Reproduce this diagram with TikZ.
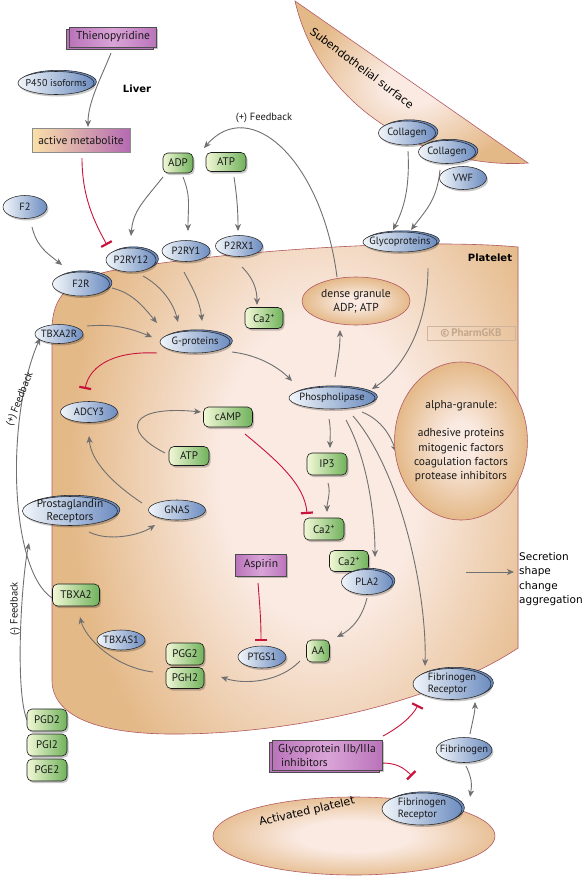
\documentclass[tikz,border=0pt]{standalone}
\usepackage{fontspec}
\setmainfont{PT Sans}
\newfontfamily\comicf{DejaVu Sans}
\usetikzlibrary{shapes.geometric,arrows.meta,shadows}
\definecolor{blL}{RGB}{242,246,250}
\definecolor{blR}{RGB}{108,140,192}
\definecolor{grL}{RGB}{242,248,214}
\definecolor{grR}{RGB}{112,178,92}
\definecolor{puM}{RGB}{218,164,216}
\definecolor{puE}{RGB}{186,116,186}
\definecolor{amL}{RGB}{250,224,168}
\definecolor{amR}{RGB}{180,106,178}
\definecolor{pin}{RGB}{250,234,226}
\definecolor{pout}{RGB}{228,185,136}
\definecolor{rim}{RGB}{180,90,100}
\definecolor{inhc}{RGB}{200,20,60}
\definecolor{arc}{RGB}{112,112,112}
\definecolor{wm}{RGB}{196,168,140}
\pgfdeclareradialshading{gran}{\pgfpoint{0bp}{0bp}}{color(0bp)=(pin); color(6bp)=(pin); color(25bp)=(pout); color(50bp)=(pout)}
\pgfdeclareradialshading{gran2}{\pgfpoint{0bp}{0bp}}{color(0bp)=(pin); color(10bp)=(pin); color(28bp)=(pout); color(50bp)=(pout)}
\pgfdeclareradialshading{plt}{\pgfpoint{0bp}{0bp}}{color(0bp)=(pin); color(100bp)=(pin); color(250bp)=(pout); color(255bp)=(pout)}
\pgfdeclarelayer{back}
\pgfdeclarelayer{edges}
\pgfsetlayers{back,edges,main}
\newcommand{\ca}{Ca2\textsuperscript{+}}
\tikzset{
  sz/.style 2 args={minimum width=#1pt, minimum height=#2pt},
  shd/.style={drop shadow={shadow xshift=1.5pt, shadow yshift=-2pt, opacity=0.22, fill=black}},
  bl/.style={ellipse, draw=black!85, line width=0.55pt, left color=blL, right color=blR,
    inner xsep=-10pt, inner ysep=-3pt, text=black!90, align=center,
    font=\fontsize{10.5}{12}\selectfont, shd},
  bld/.style={bl, copy shadow={shadow xshift=2.4pt, shadow yshift=1.2pt, fill=blR, draw=black!85, line width=0.55pt}},
  gr/.style={rectangle, rounded corners=5pt, draw=black!90, line width=0.6pt, left color=grL, right color=grR,
    inner sep=0pt, text=black!90, font=\fontsize{11}{12}\selectfont, shd},
  pu/.style={rectangle, draw=black!70, line width=0.6pt, left color=puE, right color=puE, middle color=puM,
    inner sep=0pt, text=black!90, font=\fontsize{11.5}{14}\selectfont, shd},
  pud/.style={pu, copy shadow={shadow xshift=-3pt, shadow yshift=-2.5pt, fill=puE, draw=black!70, line width=0.6pt}},
  granule/.style={ellipse, draw=rim, line width=0.6pt, shading=gran, inner sep=0pt, align=center,
    text=black!90, font=\fontsize{11.5}{14.3}\selectfont},
  ar/.style={draw=arc, line width=0.9pt, -{Stealth[length=7pt,width=6pt,inset=2pt]}},
  inh/.style={draw=inhc, line width=0.9pt, -{Bar[width=12pt,line width=2.2pt]}},
  comic/.style={font=\comicf\fontsize{11}{14.5}\selectfont},
  lbl/.style={font=\fontsize{10.5}{12}\selectfont, text=black!90}
}
\begin{document}
\begin{tikzpicture}[x=1pt,y=1pt]
\useasboundingbox (0,0) rectangle (584,-876);
\begin{pgfonlayer}{back}
\fill[white] (0,0) rectangle (584,-876);
% subendothelial surface
\path[shading=gran, draw=rim, line width=0.6pt] (295,-1) -- (528,-163) .. controls (430,-170) and (320,-110) .. (295,-1) -- cycle;
% platelet
\begin{scope}
\clip (52,-330) .. controls (52,-295) and (70,-280) .. (110,-271) .. controls (230,-250) and (420,-238) .. (518,-247) -- (518,-648) .. controls (440,-700) and (300,-733) .. (180,-734) .. controls (95,-735) and (52,-715) .. (52,-680) -- cycle;
\fill[pout] (40,-230) rectangle (530,-745);
\node[inner sep=0pt, yscale=1.5, transform shape] (pltshade) at (320,-470) {\pgfuseshading{plt}};
\end{scope}
\draw[rim, line width=0.6pt] (52,-330) .. controls (52,-295) and (70,-280) .. (110,-271) .. controls (230,-250) and (420,-238) .. (518,-247) -- (518,-648) .. controls (440,-700) and (300,-733) .. (180,-734) .. controls (95,-735) and (52,-715) .. (52,-680) -- cycle;
\end{pgfonlayer}

\node[comic, rotate=-37] (subtxt) at (362,-68) {Subendothelial surface};
\node[font=\comicf\bfseries\fontsize{10}{12}\selectfont] (platelbl) at (490,-258) {Platelet};
\node[font=\comicf\bfseries\fontsize{10}{12}\selectfont] (liver) at (137,-89) {Liver};
\node[draw=wm!85, line width=0.8pt, text=wm, font=\bfseries\fontsize{11}{11}\selectfont, minimum width=88pt, minimum height=14pt, inner sep=0pt] (wmk) at (471,-333) {\textcopyright\,PharmGKB};

\node[pud, sz={87}{20}] (thieno) at (113,-37) {Thienopyridine};
\node[bld, sz={76}{23}, font=\fontsize{10}{11}\selectfont] (p450) at (56,-83) {P450 isoforms};
\node[rectangle, draw=black!45, line width=0.6pt, left color=amL, right color=amR, inner sep=0pt, sz={98}{24}, text=black!90, font=\fontsize{11.5}{13}\selectfont] (actmet) at (81,-140) {active metabolite};
\node[gr, sz={30}{20}] (adp) at (178,-163) {ADP};
\node[gr, sz={40}{19}] (atptop) at (226,-162) {ATP};
\node[bl, sz={44}{23}] (f2) at (25,-207) {F2};
\node[bld, sz={50}{24}] (p2ry12) at (131,-260) {P2RY12};
\node[bl, sz={48}{21}] (p2ry1) at (186,-251) {P2RY1};
\node[bl, sz={47}{21}] (p2rx1) at (239,-246) {P2RX1};
\node[bld, sz={57}{24}] (f2r) at (81,-284) {F2R};
\node[bl, sz={48}{19}] (tbxa2r) at (59,-334) {TBXA2R};
\node[bld, sz={70}{22}] (gprot) at (195,-342) {G-proteins};
\node[gr, sz={38}{21}] (catop) at (264,-318) {\ca};
\node[bld, sz={57}{24}] (col1) at (407,-133) {Collagen};
\node[bld, sz={57}{23}] (col2) at (447,-152) {Collagen};
\node[bl, sz={47}{23}] (vwf) at (463,-178) {VWF};
\node[bld, sz={74}{20}] (glyco) at (400,-242) {Glycoproteins};
\node[granule, sz={108}{48}] (dense) at (356,-301) {dense granule\\ADP; ATP};
\node[granule, sz={112}{158}] (alpha) at (461,-441) {alpha-granule:\\[14.3pt]adhesive proteins\\mitogenic factors\\coagulation factors\\protease inhibitors};
\node[bld, sz={86}{22}] (phospho) at (332,-398) {Phospholipase};
\node[bl, sz={57}{21}] (adcy3) at (89,-412) {ADCY3};
\node[gr, sz={49}{20}] (camp) at (228,-417) {cAMP};
\node[gr, sz={40}{19}] (atpmid) at (189,-456) {ATP};
\node[gr, sz={40}{22}] (ip3) at (327,-464) {IP3};
\node[gr, sz={40}{22}] (camid) at (324,-529) {\ca};
\node[bl, sz={57}{20}] (gnas) at (177,-510) {GNAS};
\node[bld, sz={95}{29}, font=\fontsize{11.3}{12.5}\selectfont] (prostrec) at (70,-511) {Prostaglandin\\Receptors};
\node[pu, sz={51}{22}] (aspirin) at (261,-565) {Aspirin};
\node[gr, sz={39}{21}] (capla) at (349,-561) {\ca};
\node[bld, sz={51}{25}] (pla2) at (367,-582) {PLA2};
\node[gr, sz={23}{22}] (aa) at (318,-651) {AA};
\node[gr, sz={38}{22}] (pgg2) at (185,-654) {PGG2};
\node[gr, sz={38}{21}] (pgh2) at (185,-678) {PGH2};
\node[bl, sz={48}{20}] (tbxas1) at (121,-640) {TBXAS1};
\node[gr, sz={47}{22}] (tbxa2) at (76,-595) {TBXA2};
\node[bl, sz={48}{22}] (ptgs1) at (262,-657) {PTGS1};
\node[gr, sz={40}{22}] (pgd2) at (47,-720) {PGD2};
\node[gr, sz={40}{22}] (pgi2) at (47,-745) {PGI2};
\node[gr, sz={40}{22}] (pge2) at (47,-770) {PGE2};
\node[bld, sz={78}{31}, align=left] (fibrec1) at (452,-684) {Fibrinogen\\Receptor};
\node[bl, sz={56}{25}] (fibrin) at (464,-750) {Fibrinogen};
\node[pud, sz={110}{30}, align=left] (gpinh) at (327,-755) {Glycoprotein IIb/IIIa\\\hspace{3pt}inhibitors};
\node[granule, shading=gran2, sz={282}{78}] (activated) at (354,-836) {};
\node[comic, rotate=13] (acttxt) at (307,-812) {Activated platelet};
\node[bld, sz={80}{32}, align=left] (fibrec2) at (422,-809) {Fibrinogen\\Receptor};

\node[lbl] (fbtop) at (264,-118) {(+) Feedback};
\node[lbl, rotate=68] (fbleft) at (20,-399) {(+) Feedback};
\node[lbl, rotate=90] (fbneg) at (15,-609) {(-) Feedback};
\node[font=\comicf\fontsize{10.5}{14.5}\selectfont, anchor=north west, align=left, inner sep=1pt] (sec) at (518,-551) {Secretion\\shape\\change\\aggregation};
\coordinate (secstart) at (466,-572);

\begin{pgfonlayer}{edges}
\draw[ar] ([shift={(-2,-16)}]thieno.center) .. controls +(-10,-25) and +(0,25) .. ([shift={(7,13)}]actmet.center);
\draw[inh] ([shift={(1,-18)}]actmet.center) .. controls +(0,-40) and +(-12,22) .. ([shift={(-24,15)}]p2ry12.center);
\draw[ar] ([shift={(-19,24)}]dense.center) .. controls +(-15,117) and +(46,53) .. ([shift={(26,15)}]adp.center);
\draw[ar] ([shift={(-15,-14)}]adp.center) .. controls +(-20,-25) and +(2,25) .. ([shift={(0,24)}]p2ry12.center);
\draw[ar] ([shift={(5,-14)}]adp.center) .. controls +(8,-20) and +(0,25) .. ([shift={(2,20)}]p2ry1.center);
\draw[ar] ([shift={(8,-15)}]atptop.center) .. controls +(3,-20) and +(0,20) .. ([shift={(-1,15)}]p2rx1.center);
\draw[ar] ([shift={(7,-20)}]f2.center) .. controls +(5,-20) and +(-15,12) .. ([shift={(-19,19)}]f2r.center);
\draw[ar] ([shift={(31,-4)}]f2r.center) .. controls +(20,-5) and +(-15,18) .. ([shift={(-38,19)}]gprot.center);
\draw[ar] ([shift={(12,-16)}]p2ry12.center) .. controls +(18,-10) and +(-5,20) .. ([shift={(-17,20)}]gprot.center);
\draw[ar] ([shift={(-2,-21)}]p2ry1.center) .. controls +(8,-15) and +(-2,20) .. ([shift={(7,21)}]gprot.center);
\draw[ar] ([shift={(28,8)}]tbxa2r.center) .. controls +(25,2) and +(-25,10) .. ([shift={(-43,5)}]gprot.center);
\draw[ar] ([shift={(3,-21)}]p2rx1.center) .. controls +(12,-12) and +(0,15) .. ([shift={(-7,13)}]catop.center);
\draw[inh] ([shift={(-38,-11)}]gprot.center) .. controls +(-40,2) and +(5,25) .. ([shift={(-4,23)}]adcy3.center);
\draw[ar] ([shift={(37,-10)}]gprot.center) .. controls +(25,-3) and +(-15,15) .. ([shift={(-40,17)}]phospho.center);
\draw[ar] ([shift={(-24,3)}]atpmid.center) .. controls +(-45,23) and +(-71,7) .. ([shift={(-27,5)}]camp.center);
\draw[ar] ([shift={(-35,7)}]gnas.center) .. controls +(-30,20) and +(2,-25) .. ([shift={(0,-24)}]adcy3.center);
\draw[ar] ([shift={(19,-21)}]prostrec.center) .. controls +(20,-10) and +(-15,-10) .. ([shift={(-22,-15)}]gnas.center);
\draw[inh] ([shift={(17,-17)}]camp.center) .. controls +(30,-25) and +(-2,30) .. ([shift={(-17,15)}]camid.center);
\draw[ar] ([shift={(-3,-21)}]phospho.center) .. controls +(2,-10) and +(0,10) .. ([shift={(3,16)}]ip3.center);
\draw[ar] ([shift={(1,-19)}]ip3.center) .. controls +(3,-10) and +(0,10) .. ([shift={(3,17)}]camid.center);
\draw[ar] ([shift={(14,-22)}]phospho.center) .. controls +(22,-40) and +(0,40) .. ([shift={(8,25)}]pla2.center);
\draw[ar] ([shift={(21,-18)}]phospho.center) .. controls +(47,-54) and +(2,75) .. ([shift={(-27,18)}]fibrec1.center);
\draw[ar] ([shift={(30,-14)}]phospho.center) .. controls +(20,-8) and +(-5,15) .. ([shift={(-65,-11)}]alpha.center);
\draw[ar] ([shift={(3,21)}]phospho.center) .. controls +(3,20) and +(0,-20) .. ([shift={(-16,-29)}]dense.center);
\draw[ar] ([shift={(28,-26)}]glyco.center) .. controls +(0,-60) and +(30,20) .. ([shift={(40,9)}]phospho.center);
\draw[ar] ([shift={(1,-18)}]col1.center) .. controls +(2,-40) and +(10,20) .. ([shift={(-7,12)}]glyco.center);
\draw[ar] ([shift={(-7,-18)}]col2.center) .. controls +(-3,-30) and +(15,20) .. ([shift={(11,12)}]glyco.center);
\draw[ar] ([shift={(0,-16)}]pla2.center) .. controls +(-5,-20) and +(15,8) .. ([shift={(19,14)}]aa.center);
\draw[ar] ([shift={(-18,-10)}]aa.center) .. controls +(-20,-21) and +(24,-8) .. ([shift={(36,1)}]pgh2.center);
\draw[ar] ([shift={(-32,6)}]pgh2.center) .. controls +(-40,5) and +(5,-20) .. ([shift={(4,-22)}]tbxa2.center);
\draw[inh] ([shift={(-3,-18)}]aspirin.center) .. controls +(2,-25) and +(0,20) .. ([shift={(-1,16)}]ptgs1.center);
\draw[ar] ([shift={(-24,-3)}]tbxa2.center) .. controls +(-42,28) and +(-35,-82) .. ([shift={(-19,-4)}]tbxa2r.center);
\draw[ar] ([shift={(-20,0)}]pgd2.center) .. controls +(-12,29) and +(-8,-40) .. ([shift={(-41,-32)}]prostrec.center);
\draw[ar] (secstart) -- ([shift={(-4,-21)}]sec.north west);
\draw[inh] ([shift={(56,19)}]gpinh.center) .. controls +(15,8) and +(-6,-12) .. ([shift={(-34,-21)}]fibrec1.center);
\draw[inh] ([shift={(55,-8)}]gpinh.center) .. controls +(15,0) and +(-8,8) .. ([shift={(-10,33)}]fibrec2.center);
\draw[ar] ([shift={(6,16)}]fibrin.center) .. controls +(3,15) and +(0,-10) .. ([shift={(23,-18)}]fibrec1.center);
\draw[ar] ([shift={(2,-16)}]fibrin.center) .. controls +(6,-12) and +(2,12) .. ([shift={(48,12)}]fibrec2.center);
\end{pgfonlayer}
\end{tikzpicture}
\end{document}
